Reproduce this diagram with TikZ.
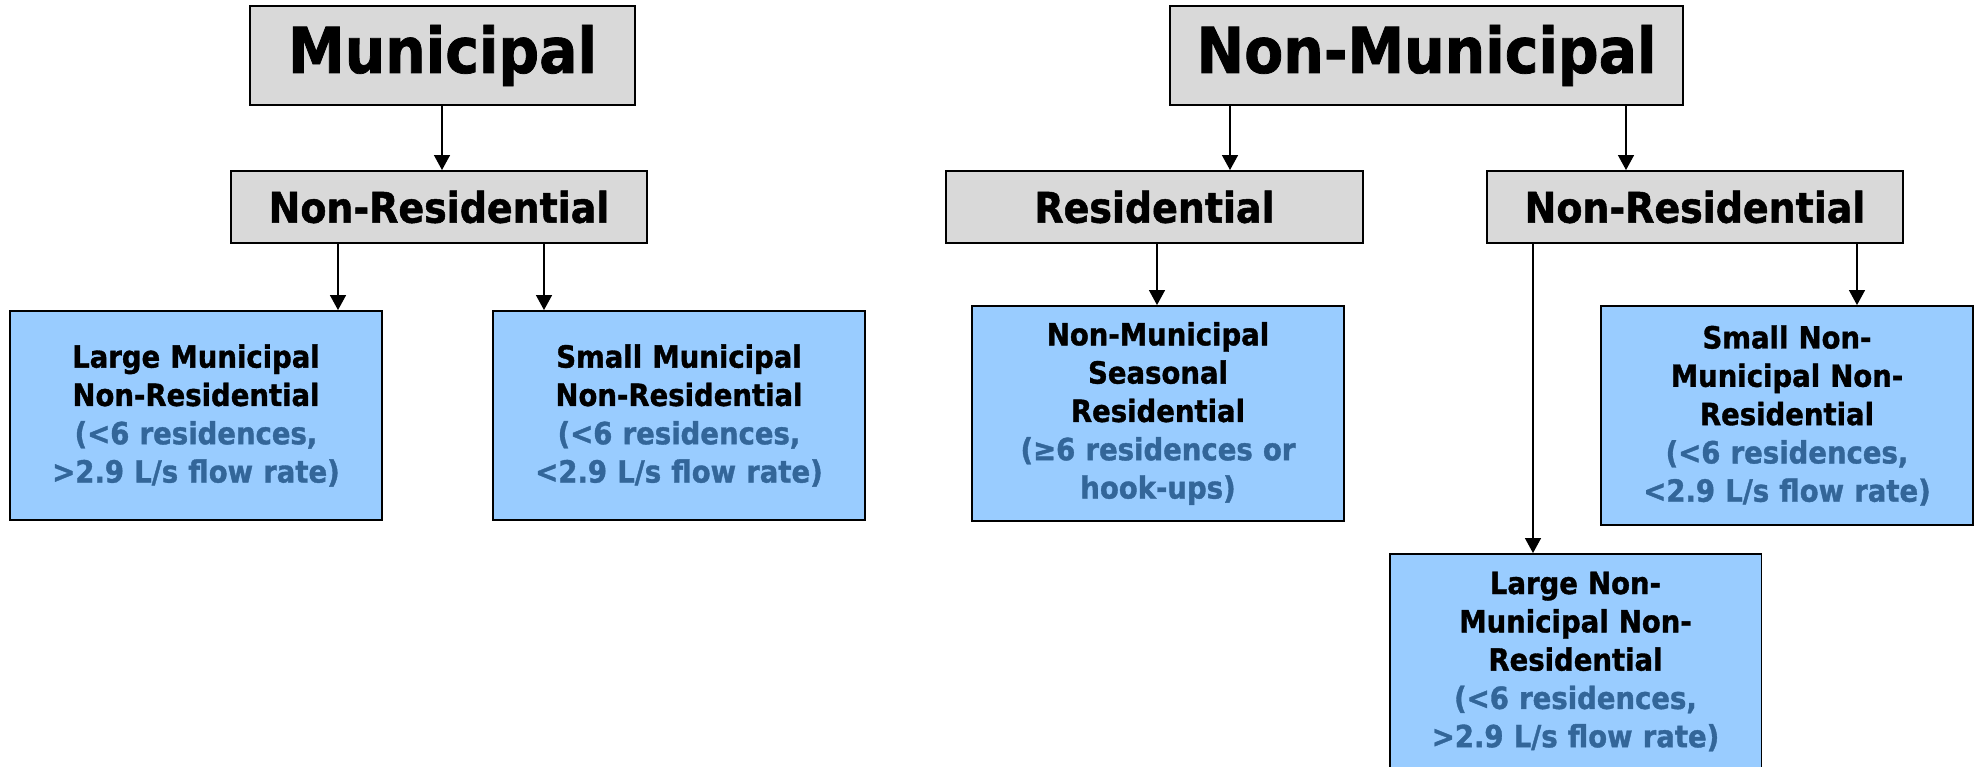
\documentclass[tikz,border=0pt]{standalone}
\usepackage{fontspec}
\setmainfont{DejaVu Sans Condensed}[BoldFont={DejaVu Sans Condensed Bold}, BoldFeatures={FakeBold=1.2}]
\usetikzlibrary{arrows.meta}

\definecolor{headgray}{RGB}{217,217,217}
\definecolor{catblue}{RGB}{153,204,255}
\definecolor{condblue}{RGB}{51,102,153}
\newcommand{\cond}[1]{\textcolor{condblue}{#1}}

\tikzset{
    topbox/.style={draw, line width=1.1pt, fill=headgray, inner sep=0pt,
        minimum height=1.98cm, font=\bfseries\fontsize{36}{44}\selectfont},
    midbox/.style={draw, line width=1.1pt, fill=headgray, inner sep=0pt,
        minimum height=1.44cm, font=\bfseries\fontsize{24}{29}\selectfont},
    catbox/.style={draw, line width=1.1pt, fill=catblue, inner sep=0pt,
        minimum width=7.44cm, text width=7.2cm, align=center,
        font=\bfseries\fontsize{17.4}{21.8}\selectfont},
    link/.style={line width=0.8pt, -{Triangle[length=0.3cm, width=0.32cm]}}
}

\begin{document}
\begin{tikzpicture}[x=0.02cm, y=-0.02cm]

    % Fix the page to the size of the chart
    \useasboundingbox (0,0) rectangle (1979,767);

    % Top level
    \node[topbox, minimum width=7.7cm] (mun) at (442.5,55.5) {Municipal};
    \node[topbox, minimum width=10.26cm] (nonmun) at (1426.5,55.5) {Non-Municipal};

    % Second level
    \node[midbox, minimum width=8.32cm] (munnr) at (439,207) {Non-Residential};
    \node[midbox, minimum width=8.34cm] (res) at (1154.5,207) {Residential};
    \node[midbox, minimum width=8.32cm] (nonmunnr) at (1695,207) {Non-Residential};

    % System categories
    \node[catbox, minimum height=4.18cm] (largemun) at (196,415.5)
        {Large Municipal\\Non-Residential\\\cond{(<6 residences,}\\\cond{>2.9 L/s flow rate)}};
    \node[catbox, minimum height=4.18cm] (smallmun) at (679,415.5)
        {Small Municipal\\Non-Residential\\\cond{(<6 residences,}\\\cond{<2.9 L/s flow rate)}};
    \node[catbox, minimum height=4.3cm] (seasonal) at (1158,413.5)
        {Non-Municipal\\Seasonal\\Residential\\\cond{(≥6 residences or}\\\cond{hook-ups)}};
    \node[catbox, minimum height=4.38cm] (smallnon) at (1787,415.5)
        {Small Non-\\Municipal Non-\\Residential\\\cond{(<6 residences,}\\\cond{<2.9 L/s flow rate)}};
    \node[catbox, minimum height=4.3cm] (largenon) at (1575.5,661.5)
        {Large Non-\\Municipal Non-\\Residential\\\cond{(<6 residences,}\\\cond{>2.9 L/s flow rate)}};

    % Arrows, straight down at the given x
    \foreach \from/\to/\xpos in {mun/munnr/442, munnr/largemun/338, munnr/smallmun/544,
            nonmun/res/1230, nonmun/nonmunnr/1626, res/seasonal/1157,
            nonmunnr/smallnon/1857, nonmunnr/largenon/1533} {
        \draw[link] (\from.south -| \xpos,0) -- (\to.north -| \xpos,0);
    }

\end{tikzpicture}
\end{document}
